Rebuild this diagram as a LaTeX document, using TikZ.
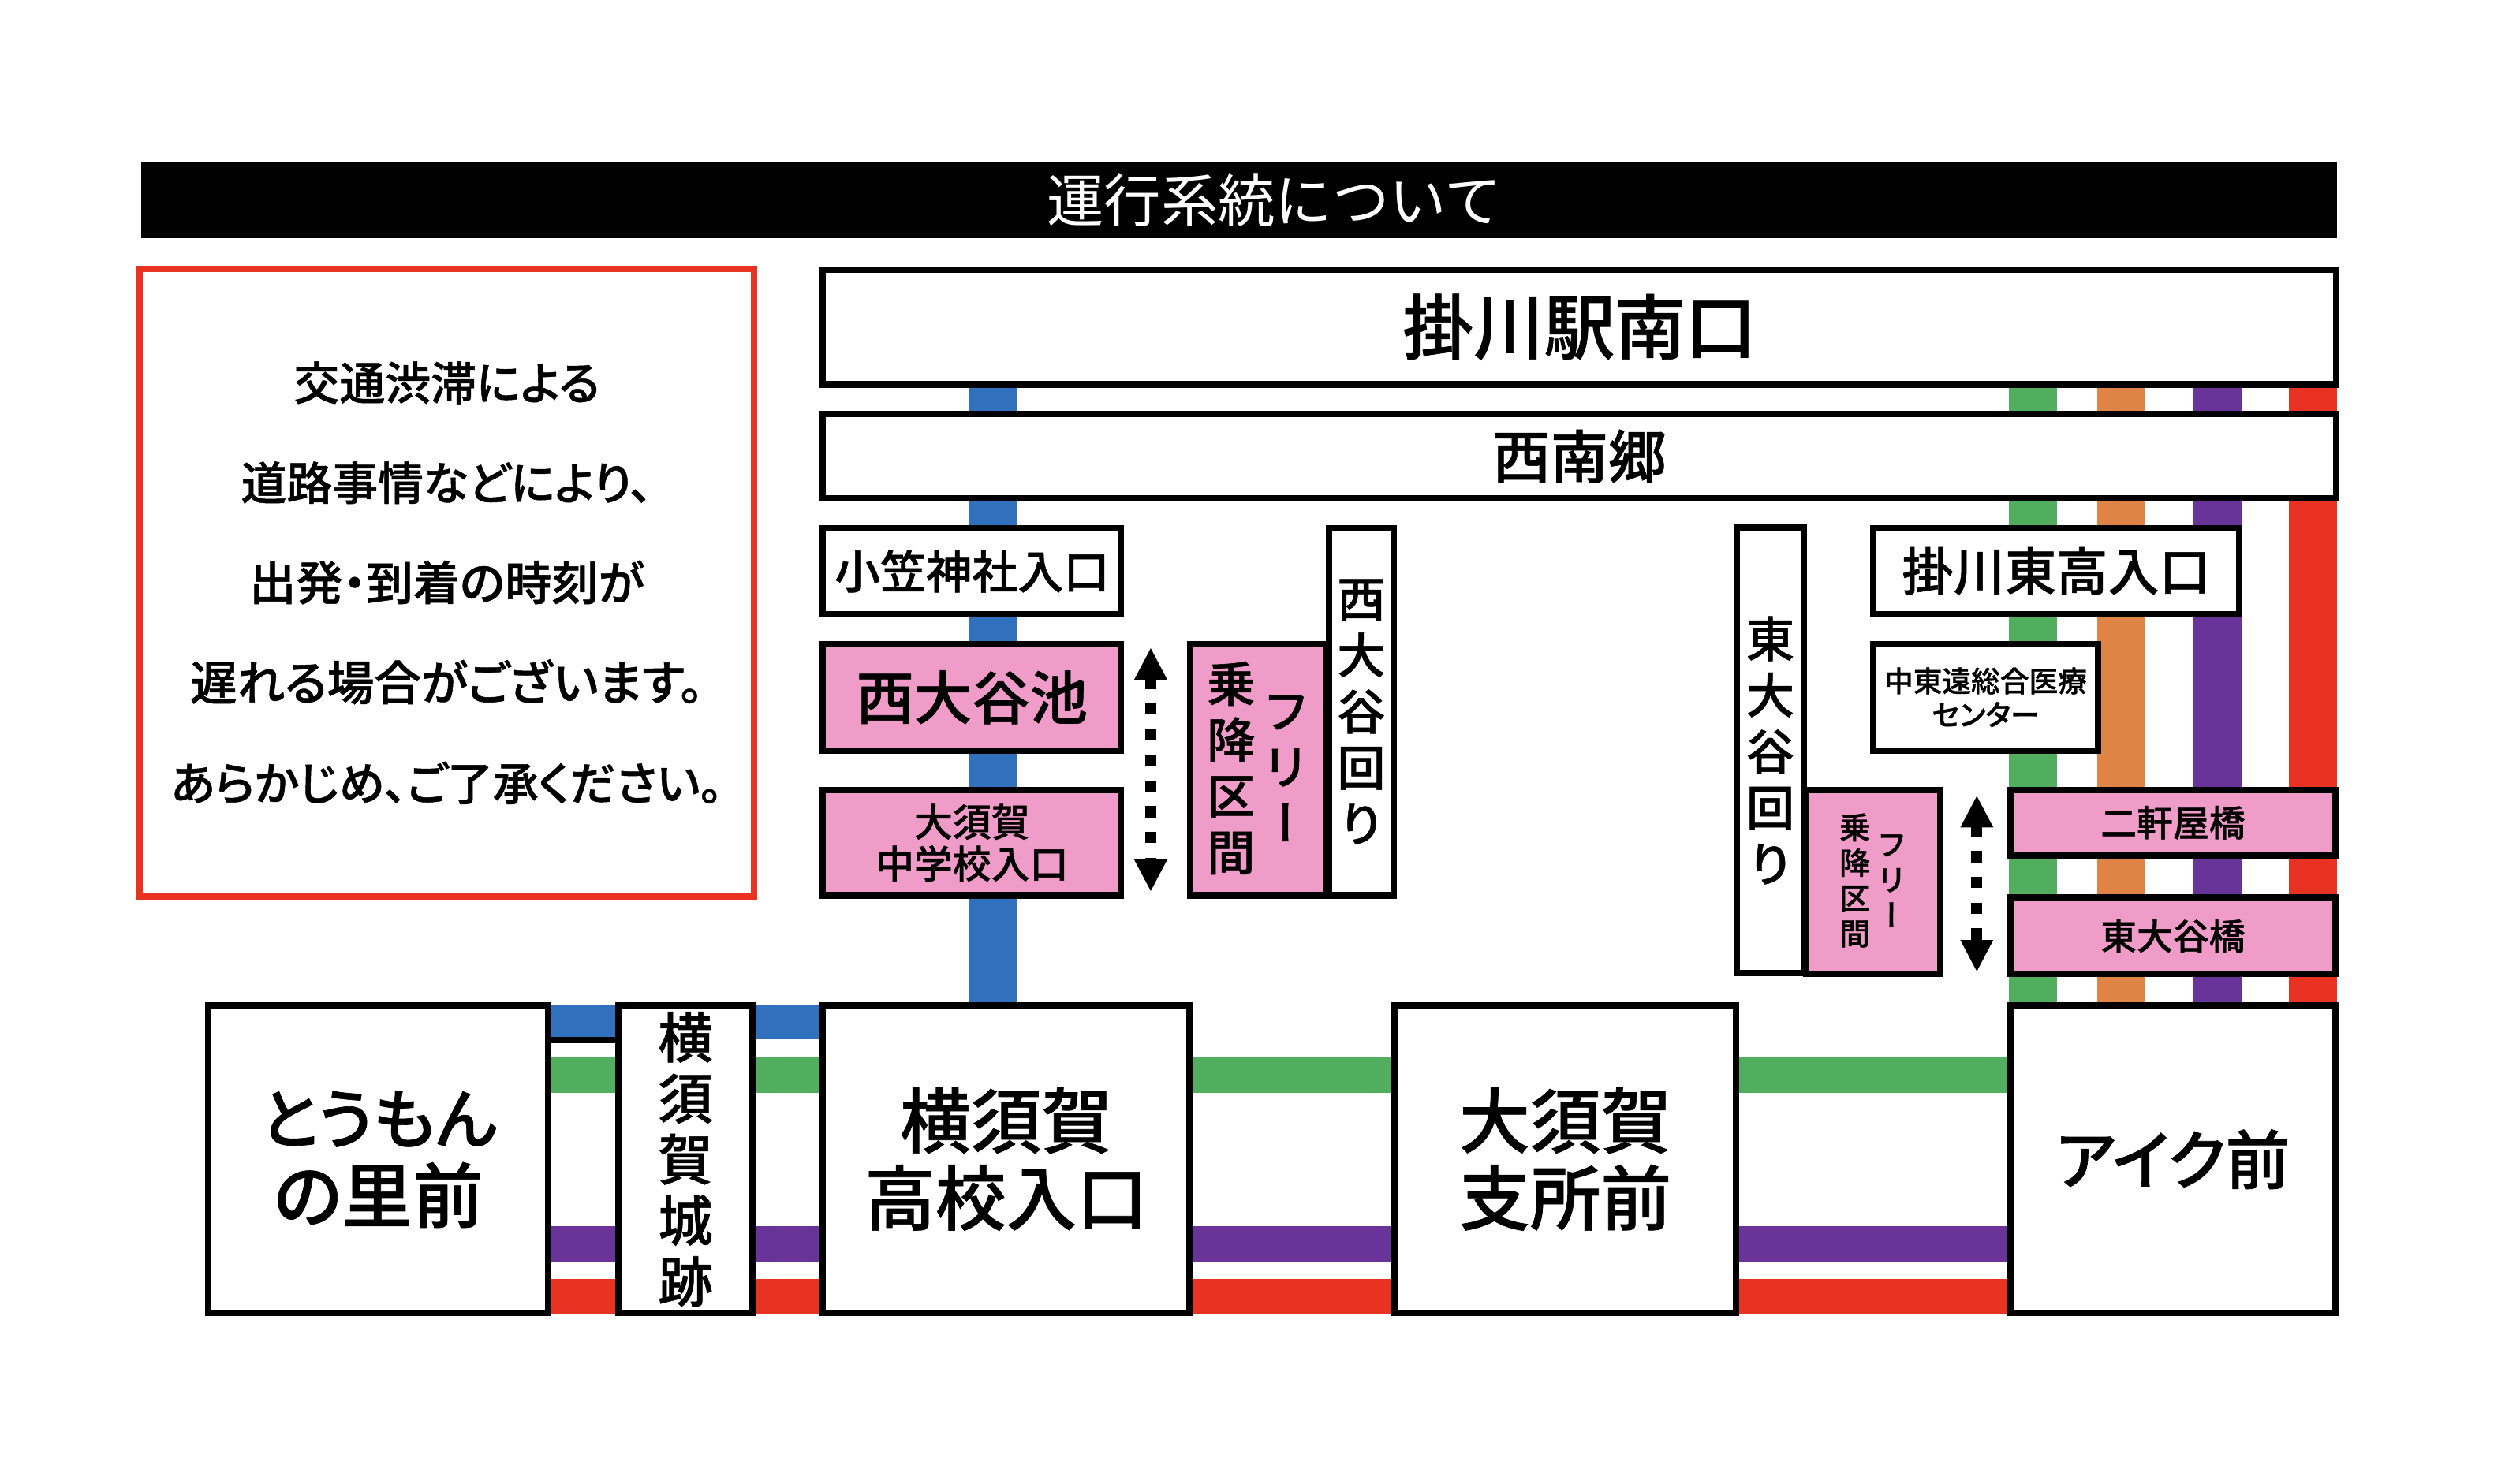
\documentclass[tikz,border=0pt]{standalone}
\usepackage{fontspec}
\setmainfont[RawFeature={+palt},BoldFont={Noto Sans CJK JP Medium},BoldFeatures={FakeBold=0.8}]{Noto Sans CJK JP}
\newfontfamily\jpfull{Noto Sans CJK JP}
\newfontfamily\jptate[RawFeature={+vert},BoldFont={Noto Sans CJK JP Medium},BoldFeatures={FakeBold=0.8}]{Noto Sans CJK JP}
\usetikzlibrary{arrows.meta,backgrounds}
\definecolor{linered}{HTML}{E83323}
\definecolor{lineblue}{HTML}{3070BC}
\definecolor{linegreen}{HTML}{52AE5F}
\definecolor{lineorange}{HTML}{DF8444}
\definecolor{linepurple}{HTML}{68349A}
\definecolor{stoppink}{HTML}{F09CC8}
\newcommand{\fsize}[2]{\fontsize{#1}{#2}\selectfont}
\tikzset{
    stopbox/.style={draw=black, line width=2pt, fill=white, inner sep=0pt, align=center},
    freebox/.style={stopbox, fill=stoppink},
    vband/.style={line width=15pt},
    hband/.style={line width=11pt},
    freearrow/.style={line width=3.5pt, dash pattern=on 3.5pt off 4.5pt, {Triangle[width=9.5pt,length=10pt]}-{Triangle[width=9.5pt,length=10pt]}}
}

\begin{document}
\begin{tikzpicture}[x=0.5pt, y=-0.5pt]
    \useasboundingbox (0,0) rectangle (1568,914.3);

    \node[fill=black, text=white, inner sep=0pt, minimum width=683pt, minimum height=23.5pt, font=\jpfull\fsize{17.75}{20}] (title) at (771,124.5) {\hspace*{22pt}運行系統について};
    \node[draw=linered, line width=2pt, fill=white, inner sep=0pt, minimum width=191.25pt, minimum height=195.5pt, align=center, font=\bfseries\fsize{14.2}{31.15}] (notice) at (278,362.75) {交通渋滞による\\道路事情などにより、\\{\fsize{14.55}{31.15}出発・到着の時刻が}\\{\fsize{14.7}{31.15}遅れる場合がございます。}\\あらかじめ、ご了承ください。};

    \node[stopbox, minimum width=470.75pt, minimum height=35.75pt, font=\bfseries\fsize{22}{24}] (minami) at (982.75,203.5) {掛川駅南口};
    \node[stopbox, minimum width=470.75pt, minimum height=26.25pt, font=\bfseries\fsize{18}{20}] (seinan) at (982.75,284) {西南郷};

    \node[stopbox, minimum width=92.75pt, minimum height=26.75pt, font=\bfseries\fsize{14.25}{16}] (ogasa) at (604.75,355.5) {小笠神社入口};
    \node[freebox, minimum width=92.75pt, minimum height=33.25pt, font=\bfseries\fsize{18}{20}] (nishiike) at (604.75,434) {西大谷池};
    \node[freebox, minimum width=92.75pt, minimum height=32.75pt, font=\bfseries\fsize{12}{13}] (osukachu) at (604.75,524.5) {大須賀\\中学校入口};

    \node[freebox, minimum width=42.25pt, minimum height=78.25pt] (westfree) at (783,479) {};
    \node[inner sep=0pt, align=center, font=\jptate\bfseries\fsize{15}{17.5}] (westjo) at (766,478) {乗\\降\\区\\間};
    \node[inner sep=0pt, align=center, font=\jptate\bfseries\fsize{15}{17.5}] (westfr) at (800,478) {フ\\リ\\ー};
    \node[stopbox, minimum width=20.25pt, minimum height=114.25pt, font=\jptate\bfseries\fsize{15}{17.5}] (westloop) at (847,443) {西\\大\\谷\\回\\り};

    \node[stopbox, minimum width=20.75pt, minimum height=138.75pt, font=\jptate\bfseries\fsize{15}{17.5}] (eastloop) at (1101.5,467) {東\\大\\谷\\回\\り};
    \node[freebox, minimum width=41.75pt, minimum height=57.25pt] (eastfree) at (1165.5,549) {};
    \node[inner sep=0pt, align=center, font=\jptate\bfseries\fsize{9.5}{11}] (eastjo) at (1154,548) {乗\\降\\区\\間};
    \node[inner sep=0pt, align=center, font=\jptate\bfseries\fsize{9.5}{11}] (eastfr) at (1177,548) {フ\\リ\\ー};

    \node[stopbox, minimum width=113.75pt, minimum height=26.75pt, font=\bfseries\fsize{16}{18}] (higashi) at (1279.5,355.5) {掛川東高入口};
    \node[stopbox, minimum width=69.75pt, minimum height=33.25pt, font=\bfseries\fsize{9}{10.5}] (chuto) at (1235.5,434) {中東遠総合医療\\センター};
    \node[freebox, minimum width=101.25pt, minimum height=20.25pt, font=\bfseries\fsize{11.25}{13}] (nikenya) at (1352,512) {二軒屋橋};
    \node[freebox, minimum width=101.25pt, minimum height=23.75pt, font=\bfseries\fsize{11.25}{13}] (higashibashi) at (1352,582.5) {東大谷橋};

    \node[stopbox, minimum width=105.75pt, minimum height=95.75pt, font=\bfseries\fsize{22}{24.5}] (toumon) at (235.5,721.5) {{\fsize{20.5}{24.5}とうもん}\\の里前};
    \node[stopbox, minimum width=41.75pt, minimum height=95.75pt, font=\bfseries\fsize{17}{19}] (joseki) at (426.5,721.5) {横\\須\\賀\\城\\跡};
    \node[stopbox, minimum width=114.25pt, minimum height=95.75pt, font=\bfseries\fsize{22}{24}] (yokosuka) at (626,721.5) {横須賀\\高校入口};
    \node[stopbox, minimum width=106.25pt, minimum height=95.75pt, font=\bfseries\fsize{22}{24}] (osuka) at (974,721.5) {大須賀\\支所前};
    \node[stopbox, minimum width=101.25pt, minimum height=95.75pt, font=\bfseries\fsize{20}{24.5}] (aiku) at (1352,721.5) {アイク前};

    \begin{scope}[on background layer]
        \coordinate (xblue) at (618,0);
        \coordinate (xgreen) at (1265,0);
        \coordinate (xorange) at (1320,0);
        \coordinate (xpurple) at (1380,0);
        \coordinate (xred) at (1439,0);
        \coordinate (yblue) at (0,636);
        \coordinate (ygreen) at (0,669);
        \coordinate (ypurple) at (0,774);
        \coordinate (yred) at (0,807);
        \draw[vband, lineblue] (minami.south -| xblue) -- (yokosuka.north -| xblue);
        \draw[vband, linegreen] (minami.south -| xgreen) -- (aiku.north -| xgreen);
        \draw[vband, lineorange] (minami.south -| xorange) -- (aiku.north -| xorange);
        \draw[vband, linepurple] (minami.south -| xpurple) -- (aiku.north -| xpurple);
        \draw[vband, linered] (minami.south -| xred) -- (aiku.north -| xred);
        \draw[hband, lineblue] (toumon.east |- yblue) -- (yokosuka.west |- yblue);
        \draw[hband, linegreen] (toumon.east |- ygreen) -- (aiku.west |- ygreen);
        \draw[hband, linepurple] (toumon.east |- ypurple) -- (aiku.west |- ypurple);
        \draw[hband, linered] (toumon.east |- yred) -- (aiku.west |- yred);
    \end{scope}

    \coordinate (blueunder) at (0,647.5);
    \draw[line width=2pt] (toumon.east |- blueunder) -- (joseki.west |- blueunder);

    \coordinate (westtop) at (716,403);
    \coordinate (westbot) at (716,555);
    \draw[freearrow] (westtop) -- (westbot);
    \coordinate (easttop) at (1230,495);
    \coordinate (eastbot) at (1230,605);
    \draw[freearrow] (easttop) -- (eastbot);
\end{tikzpicture}
\end{document}
